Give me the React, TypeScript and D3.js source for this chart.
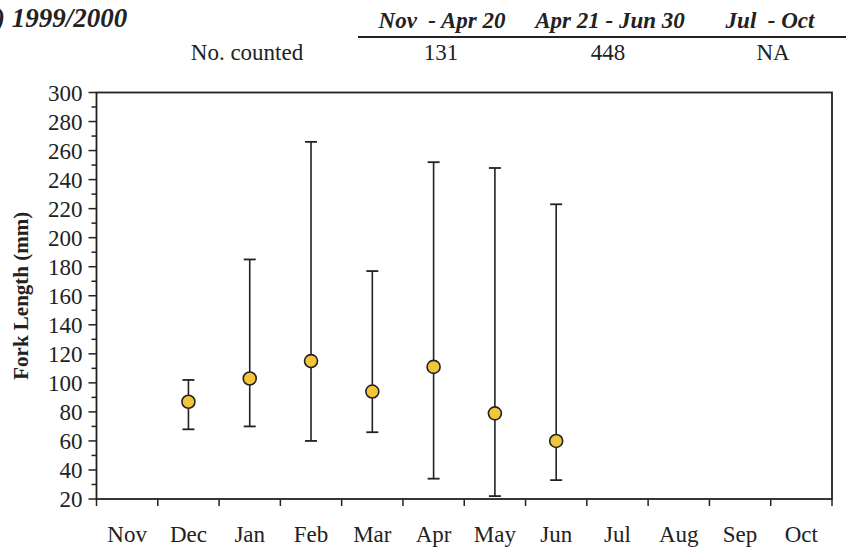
import { useEffect, useRef } from 'react';
import * as d3 from 'd3';

// months on the x axis
const months = ['Nov', 'Dec', 'Jan', 'Feb', 'Mar', 'Apr', 'May', 'Jun', 'Jul', 'Aug', 'Sep', 'Oct'];

// fork length summary per month (mm)
const sampledMonths = ['Dec', 'Jan', 'Feb', 'Mar', 'Apr', 'May', 'Jun'];
const meanLength = [87, 103, 115, 94, 111, 79, 60];
const minLength = [68, 70, 60, 66, 34, 22, 33];
const maxLength = [102, 185, 266, 177, 252, 248, 223];

// header table
const periods = ['Nov  - Apr 20', 'Apr 21 - Jun 30', 'Jul  - Oct'];
const counts = ['131', '448', 'NA'];

const yTicks = d3.range(20, 301, 20);
const yMinor = d3.range(30, 300, 20);

export default function App() {
  const svgRef = useRef<SVGSVGElement>(null);

  useEffect(() => {
    if (!svgRef.current) return;
    const svg = d3.select(svgRef.current);
    svg.selectAll('*').remove();

    const left = 96.5, right = 832, top = 92.5, bottom = 499;
    const font = '"Liberation Serif", "Times New Roman", serif';
    const ink = '#222';

    const x = d3.scaleBand().domain(months).range([left, right]);
    const y = d3.scaleLinear().domain([20, 300]).range([bottom, top]);

    // header
    svg.append('text')
      .attr('x', -4).attr('y', 27)
      .attr('font-family', font).attr('font-size', 27)
      .attr('font-weight', 'bold').attr('font-style', 'italic')
      .attr('fill', ink)
      .text(') 1999/2000');

    const colX = [442, 610, 770];
    svg.selectAll('text.period')
      .data(periods)
      .join('text')
      .attr('class', 'period')
      .attr('x', (_, i) => colX[i]).attr('y', 28)
      .attr('text-anchor', 'middle')
      .attr('font-family', font).attr('font-size', 23)
      .attr('font-weight', 'bold').attr('font-style', 'italic')
      .attr('fill', ink)
      .style('white-space', 'pre')
      .text(d => d);

    svg.append('line')
      .attr('x1', 358).attr('x2', 846)
      .attr('y1', 37).attr('y2', 37)
      .attr('stroke', ink).attr('stroke-width', 2);

    svg.append('text')
      .attr('x', 247).attr('y', 60)
      .attr('text-anchor', 'middle')
      .attr('font-family', font).attr('font-size', 23)
      .attr('fill', ink)
      .text('No. counted');

    const countX = [441, 608, 773];
    svg.selectAll('text.count')
      .data(counts)
      .join('text')
      .attr('class', 'count')
      .attr('x', (_, i) => countX[i]).attr('y', 60)
      .attr('text-anchor', 'middle')
      .attr('font-family', font).attr('font-size', 23)
      .attr('fill', ink)
      .text(d => d);

    // frame
    svg.append('rect')
      .attr('x', left).attr('y', top)
      .attr('width', right - left).attr('height', bottom - top)
      .attr('fill', 'none').attr('stroke', ink).attr('stroke-width', 1.8);

    // y axis
    const yAxis = svg.append('g');
    yAxis.selectAll('line.major')
      .data(yTicks)
      .join('line')
      .attr('class', 'major')
      .attr('x1', left - 8).attr('x2', left)
      .attr('y1', d => y(d)).attr('y2', d => y(d))
      .attr('stroke', ink).attr('stroke-width', 1.5);
    yAxis.selectAll('line.minor')
      .data(yMinor)
      .join('line')
      .attr('class', 'minor')
      .attr('x1', left - 5).attr('x2', left)
      .attr('y1', d => y(d)).attr('y2', d => y(d))
      .attr('stroke', ink).attr('stroke-width', 1.5);
    yAxis.selectAll('text')
      .data(yTicks)
      .join('text')
      .attr('x', left - 14).attr('y', d => y(d))
      .attr('dy', '0.35em')
      .attr('text-anchor', 'end')
      .attr('font-family', font).attr('font-size', 23)
      .attr('fill', ink)
      .text(d => d);

    svg.append('text')
      .attr('transform', `translate(28, ${(top + bottom) / 2}) rotate(-90)`)
      .attr('text-anchor', 'middle')
      .attr('font-family', font).attr('font-size', 21)
      .attr('font-weight', 'bold')
      .attr('fill', ink)
      .text('Fork Length (mm)');

    // x axis
    const xEdges = months.map(m => x(m)!).concat([right]);
    svg.append('g').selectAll('line')
      .data(xEdges)
      .join('line')
      .attr('x1', d => d).attr('x2', d => d)
      .attr('y1', bottom).attr('y2', bottom + 7)
      .attr('stroke', ink).attr('stroke-width', 1.5);
    svg.append('g').selectAll('text')
      .data(months)
      .join('text')
      .attr('x', d => x(d)! + x.bandwidth() / 2)
      .attr('y', 542)
      .attr('text-anchor', 'middle')
      .attr('font-family', font).attr('font-size', 23)
      .attr('fill', ink)
      .text(d => d);

    // error bars and means
    const rows = sampledMonths.map((m, i) => ({
      m, mean: meanLength[i], lo: minLength[i], hi: maxLength[i]
    }));
    const cx = (m: string) => x(m)! + x.bandwidth() / 2;
    const g = svg.append('g');
    g.selectAll('line.bar')
      .data(rows)
      .join('line')
      .attr('class', 'bar')
      .attr('x1', d => cx(d.m)).attr('x2', d => cx(d.m))
      .attr('y1', d => y(d.hi)).attr('y2', d => y(d.lo))
      .attr('stroke', ink).attr('stroke-width', 1.6);
    g.selectAll('line.capHi')
      .data(rows)
      .join('line')
      .attr('class', 'capHi')
      .attr('x1', d => cx(d.m) - 6).attr('x2', d => cx(d.m) + 6)
      .attr('y1', d => y(d.hi)).attr('y2', d => y(d.hi))
      .attr('stroke', ink).attr('stroke-width', 1.8);
    g.selectAll('line.capLo')
      .data(rows)
      .join('line')
      .attr('class', 'capLo')
      .attr('x1', d => cx(d.m) - 6).attr('x2', d => cx(d.m) + 6)
      .attr('y1', d => y(d.lo)).attr('y2', d => y(d.lo))
      .attr('stroke', ink).attr('stroke-width', 1.8);
    g.selectAll('circle')
      .data(rows)
      .join('circle')
      .attr('cx', d => cx(d.m)).attr('cy', d => y(d.mean))
      .attr('r', 6.5)
      .attr('fill', '#f2c53a')
      .attr('stroke', ink).attr('stroke-width', 1.6);
  }, []);

  return (
    <svg ref={svgRef} width={846} height={550}
      style={{ position: 'absolute', left: 0, top: 0, background: '#fff' }} />
  );
}
